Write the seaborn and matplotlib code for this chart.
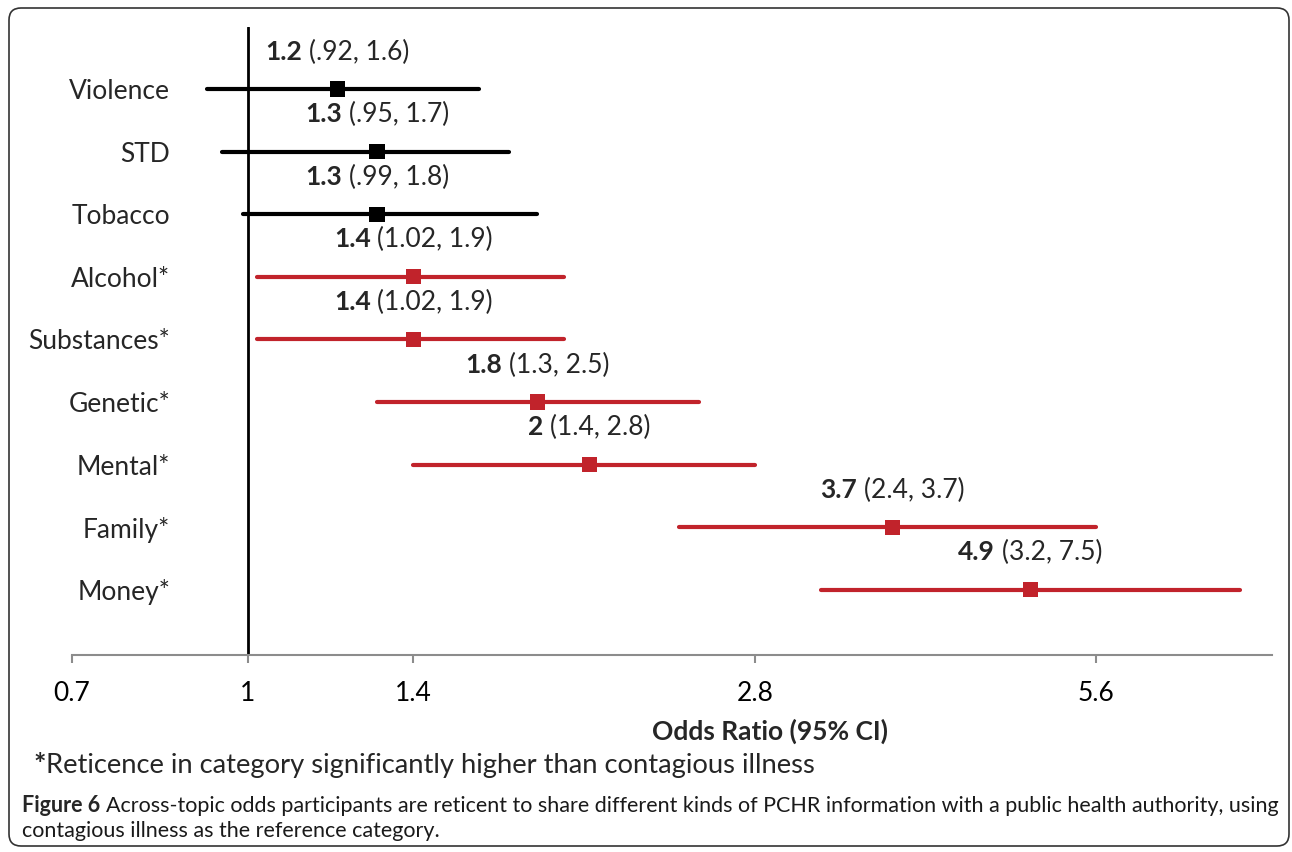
import numpy as np
import pandas as pd
import seaborn as sns
import matplotlib.pyplot as plt
from matplotlib.offsetbox import TextArea, HPacker, AnnotationBbox
from matplotlib.patches import FancyBboxPatch
from matplotlib.transforms import IdentityTransform
from matplotlib.ticker import NullLocator

# data
categories = ['Violence', 'STD', 'Tobacco', 'Alcohol*', 'Substances*',
              'Genetic*', 'Mental*', 'Family*', 'Money*']
odds = [1.2, 1.3, 1.3, 1.4, 1.4, 1.8, 2.0, 3.7, 4.9]
ci_low = [0.92, 0.95, 0.99, 1.02, 1.02, 1.3, 1.4, 2.4, 3.2]
ci_high = [1.6, 1.7, 1.8, 1.9, 1.9, 2.5, 2.8, 5.6, 7.5]
significant = [False, False, False, True, True, True, True, True, True]
or_labels = ['1.2', '1.3', '1.3', '1.4', '1.4', '1.8', '2', '3.7', '4.9']
ci_labels = ['(.92, 1.6)', '(.95, 1.7)', '(.99, 1.8)', '(1.02, 1.9)', '(1.02, 1.9)',
             '(1.3, 2.5)', '(1.4, 2.8)', '(2.4, 3.7)', '(3.2, 7.5)']
x_ticks = [0.7, 1, 1.4, 2.8, 5.6]
x_tick_labels = ['0.7', '1', '1.4', '2.8', '5.6']

sns.set_style('white')
plt.rcParams['font.family'] = ['Lato', 'DejaVu Sans']

FS = 19
CAP_FS = 15.5
RED = '#C1232B'
GREY = '#8c8c8c'

df = pd.DataFrame({
    'category': categories,
    'odds': odds,
    'low': ci_low,
    'high': ci_high,
    'group': np.where(significant, 'sig', 'ref'),
    'pos': np.arange(len(categories)),
})
colors = {'ref': 'black', 'sig': RED}

fig = plt.figure(figsize=(12.92, 8.52), dpi=100)
ax = fig.add_axes([72 / 1292, 1 - 655 / 852, 1200 / 1292, 628 / 852])
ax.set_xscale('log')

ax.axvline(1, color='black', lw=2, zorder=1)
ax.hlines(df['pos'], df['low'], df['high'], colors=df['group'].map(colors),
          lw=3, capstyle='round', zorder=2)
sns.scatterplot(data=df, x='odds', y='pos', hue='group', palette=colors,
                marker='s', s=120, linewidth=0, legend=False, ax=ax, zorder=3)

ax.set_xlim(0.7, 8.0)
ax.set_ylim(9.04, -0.99)

for s in ['top', 'right', 'left']:
    ax.spines[s].set_visible(False)
ax.spines['bottom'].set_color(GREY)
ax.spines['bottom'].set_linewidth(1.5)

ax.set_xticks(x_ticks, x_tick_labels)
ax.xaxis.set_minor_locator(NullLocator())
ax.tick_params(axis='x', direction='out', length=6, width=1.5, color=GREY,
               labelsize=FS, labelcolor='black', pad=13, bottom=True)
ax.set_yticks(df['pos'], categories)
ax.tick_params(axis='y', length=0, labelsize=FS, pad=-70.6)
ax.set_xlabel('')
ax.set_ylabel('')

# value labels above each line: bold estimate + CI
for i, row in df.iterrows():
    box = HPacker(children=[TextArea(or_labels[i], textprops=dict(weight='bold', size=FS)),
                            TextArea(ci_labels[i], textprops=dict(size=FS))],
                  sep=5, pad=0, align='baseline')
    ab = AnnotationBbox(box, (row['odds'], row['pos'] - 0.59), xycoords='data',
                        frameon=False, box_alignment=(0.5, 0.5), pad=0)
    ax.add_artist(ab)

fig.text(770 / 1292, 1 - 731 / 852, 'Odds Ratio (95% CI)', weight='bold',
         ha='center', va='center', size=FS)

foot = HPacker(children=[TextArea('*', textprops=dict(weight='bold', size=21)),
                         TextArea('Reticence in category significantly higher than contagious illness',
                                  textprops=dict(size=19.7))],
               sep=0, pad=0, align='baseline')
fig.add_artist(AnnotationBbox(foot, (33 / 1292, 1 - 765 / 852), xycoords='figure fraction',
                              frameon=False, box_alignment=(0, 0.5), pad=0))

cap = HPacker(children=[TextArea('Figure 6', textprops=dict(weight='bold', size=CAP_FS)),
                        TextArea('Across-topic odds participants are reticent to share different kinds '
                                 'of PCHR information with a public health authority, using',
                                 textprops=dict(size=CAP_FS, color='#1a1a1a'))],
              sep=4, pad=0, align='baseline')
fig.add_artist(AnnotationBbox(cap, (22 / 1292, 1 - 805 / 852), xycoords='figure fraction',
                              frameon=False, box_alignment=(0, 0.5), pad=0))
fig.text(22 / 1292, 1 - 831 / 852, 'contagious illness as the reference category.',
         size=CAP_FS, color='#1a1a1a', ha='left', va='center')

fig.add_artist(FancyBboxPatch((9, 852 - 846), 1280, 838,
                              boxstyle='round,pad=0,rounding_size=12',
                              transform=IdentityTransform(), fill=False,
                              ec='#333333', lw=1.2))

fig.savefig('out.png', dpi=100)
